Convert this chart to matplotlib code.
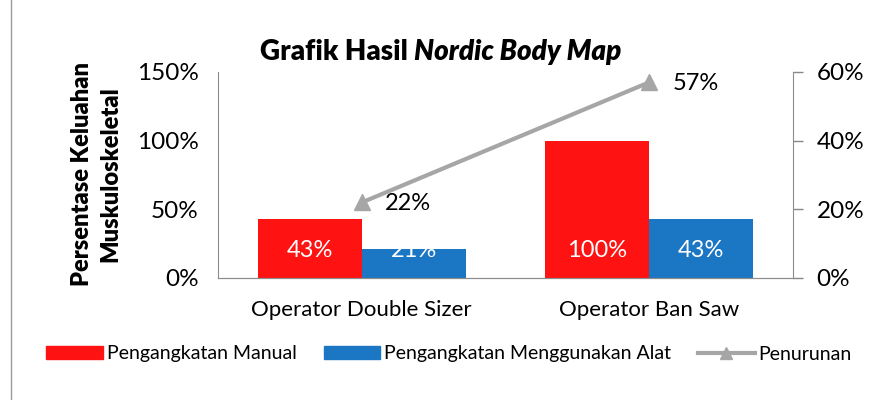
import matplotlib.pyplot as plt
import numpy as np
from matplotlib.lines import Line2D
from matplotlib.patches import Patch

plt.rcParams['font.family'] = ['Lato', 'DejaVu Sans']

# data
categories = ["Operator Double Sizer", "Operator Ban Saw"]
manual = [43, 100]
alat = [21, 43]
penurunan = [22, 57]

red = "#FF1212"
blue = "#1B76C4"
grey = "#A6A6A6"

fig = plt.figure(figsize=(8.77, 4.0), dpi=100)
ax = fig.add_axes([0.2486, 0.305, 0.6556, 0.515])
ax2 = ax.twinx()

x = np.arange(len(categories))
w = 0.362
b1 = ax.bar(x - w / 2, manual, w, color=red, zorder=2)
b2 = ax.bar(x + w / 2, alat, w, color=blue, zorder=2)

ax.set_xlim(-0.5, 1.5)
ax.set_ylim(0, 150)
ax.set_yticks([0, 50, 100, 150])
ax.set_yticklabels([f"{v}%" for v in [0, 50, 100, 150]], fontsize=17.5)
ax.set_xticks(x)
ax.set_xticklabels(categories, fontsize=16)
ax.tick_params(axis='x', length=0, pad=16)
ax.tick_params(axis='y', length=0, pad=14)

# labels inside bar base
for bars, vals in ((b1, manual), (b2, alat)):
    for r, v in zip(bars, vals):
        ax.annotate(f"{v}%", (r.get_x() + r.get_width() / 2, 0), xytext=(0, 20),
                    textcoords='offset points', ha='center', va='center',
                    color='white', fontsize=17, zorder=3)

ax2.plot(x, penurunan, color=grey, lw=3, marker='^', ms=11, zorder=4)
ax2.set_ylim(0, 60)
ax2.set_yticks([0, 20, 40, 60])
ax2.set_yticklabels([f"{v}%" for v in [0, 20, 40, 60]], fontsize=17.5)
ax2.tick_params(axis='y', length=7, width=1, color='#888888', pad=10)
for xi, v in zip(x, penurunan):
    ax2.annotate(f"{v}%", (xi, v), xytext=(17, -1), textcoords='offset points',
                 ha='left', va='center', fontsize=17, color='black')

for a in (ax, ax2):
    a.spines['top'].set_visible(False)
    for s in ('left', 'right', 'bottom'):
        a.spines[s].set_color('#8C8C8C')
ax2.spines['left'].set_visible(False)
ax.spines['right'].set_visible(False)

fig.text(0.11, 0.565, "Persentase Keluahan\nMuskuloskeletal", rotation=90,
         ha='center', va='center', fontsize=17, fontweight='heavy', linespacing=1.35)

# title
fig.text(414 / 877, 1 - 52 / 400, "Grafik Hasil ", ha='right', va='center',
         fontsize=20, fontweight='heavy')
fig.text(414 / 877, 1 - 52 / 400, "Nordic Body Map", ha='left', va='center',
         fontsize=20, fontweight='heavy', style='italic')

handles = [Patch(color=red), Patch(color=blue),
           Line2D([], [], color=grey, lw=3, marker='^', ms=8)]
fig.legend(handles, ["Pengangkatan Manual", "Pengangkatan Menggunakan Alat", "Penurunan"],
           loc='center', bbox_to_anchor=(0.512, 1 - 354 / 400), ncol=3, frameon=False,
           fontsize=14, handlelength=2.9, handleheight=0.6, handletextpad=0.2,
           columnspacing=1.4)

fig.add_artist(Line2D([11 / 877, 11 / 877], [0, 1], color='#9A9A9A', lw=1))

fig.savefig("out.png", dpi=100)
